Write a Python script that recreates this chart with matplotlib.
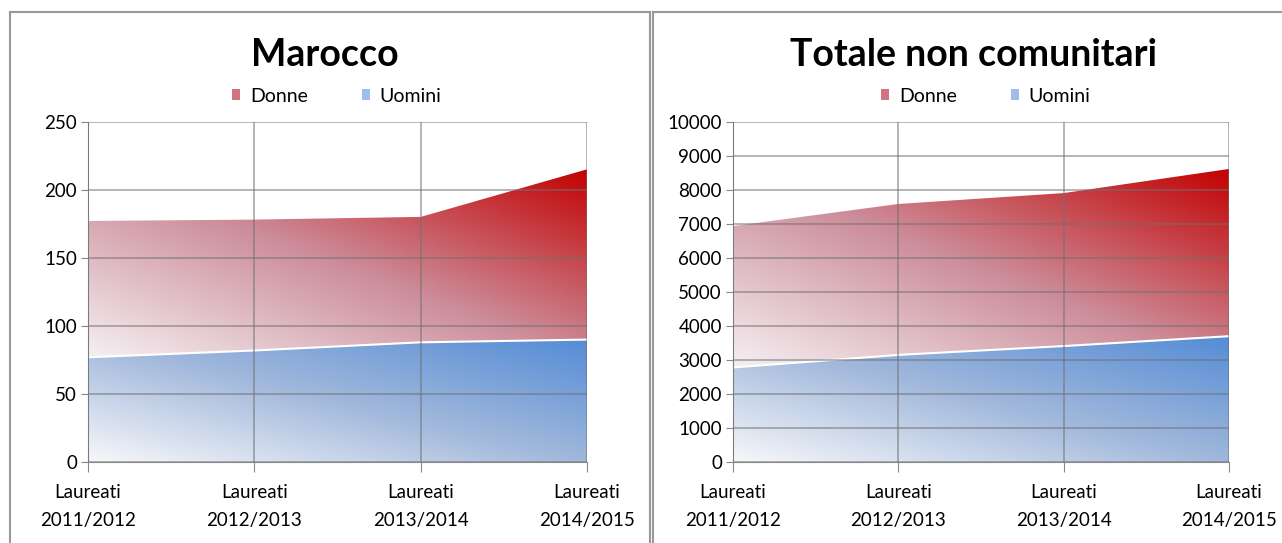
import numpy as np
import matplotlib
matplotlib.use('Agg')
import matplotlib.pyplot as plt
from matplotlib.lines import Line2D
from matplotlib.patches import Patch

# categories and values (stacked area: Uomini bottom, Donne on top)
categories = ['Laureati\n2011/2012', 'Laureati\n2012/2013',
              'Laureati\n2013/2014', 'Laureati\n2014/2015']
marocco_uomini = [77, 82, 88, 90]
marocco_donne = [101, 97, 93, 126]
totale_uomini = [2780, 3150, 3410, 3700]
totale_donne = [4190, 4470, 4530, 4950]

# gradient stops (light bottom-left -> mid -> strong top-right)
red_stops = [(0.96, 0.94, 0.95), (0.80, 0.55, 0.60), (0.76, 0.0, 0.0)]
blue_stops = [(0.97, 0.97, 0.98), (0.63, 0.72, 0.86), (0.33, 0.55, 0.84)]

plt.rcParams['font.family'] = ['Lato', 'DejaVu Sans']

W, H = 1282, 543
fig = plt.figure(figsize=(W / 100, H / 100), dpi=100)


def px(x0, y0, x1, y1):
    return [x0 / W, 1 - y1 / H, (x1 - x0) / W, (y1 - y0) / H]


def gradient_area(ax, x, lower, upper, stops):
    poly = ax.fill_between(x, lower, upper, facecolor='none', edgecolor='none')
    y0, y1 = min(lower), max(upper)
    n = 200
    gx, gy = np.meshgrid(np.linspace(0, 1, n), np.linspace(0, 1, n))
    t = (gx + gy) / 2
    img = np.zeros((n, n, 3))
    for c in range(3):
        img[..., c] = np.interp(t, [0, 0.5, 1], [s[c] for s in stops])
    im = ax.imshow(img, extent=[x[0], x[-1], y0, y1], origin='lower',
                   aspect='auto', zorder=1, interpolation='bilinear')
    im.set_clip_path(poly.get_paths()[0], ax.transData)
    ax.plot(x, upper, color='white', lw=1.5, zorder=2)


def draw_panel(rect, title, uomini, donne, ymax, step, title_x):
    ax = fig.add_axes(rect)
    x = np.arange(len(categories))
    base = np.zeros(len(x))
    tot_u = np.array(uomini, dtype=float)
    tot_d = tot_u + np.array(donne)
    gradient_area(ax, x, base, tot_u, blue_stops)
    gradient_area(ax, x, tot_u, tot_d, red_stops)

    ax.set_xlim(0, len(x) - 1)
    ax.set_ylim(0, ymax)
    ax.set_yticks(np.arange(0, ymax + 1, step))
    ax.set_xticks(x)
    ax.set_xticklabels(categories, fontsize=13.5, linespacing=1.75)
    ax.tick_params(axis='y', labelsize=13.5, length=5, color='#888888', pad=3)
    ax.tick_params(axis='x', length=7, color='#888888', pad=9)
    for s in ['top', 'right']:
        ax.spines[s].set_visible(False)
    for s in ['left', 'bottom']:
        ax.spines[s].set_color('#888888')
    ax.grid(True, color='#707070', alpha=0.65, lw=1.1, zorder=3)
    ax.set_axisbelow(False)
    ax.set_facecolor('white')

    fig.text(title_x, 1 - 55 / H, title, ha='center', va='center',
             fontsize=27, fontweight='bold')
    handles = [Patch(facecolor=(0.82, 0.45, 0.50)), Patch(facecolor=(0.62, 0.74, 0.92))]
    fig.legend(handles, ['Donne', 'Uomini'], loc='center',
               bbox_to_anchor=(title_x + 12 / W, 1 - 96 / H), ncol=2, frameon=False,
               fontsize=14, handlelength=0.4, handleheight=0.55,
               handletextpad=0.5, columnspacing=2.8)
    return ax


draw_panel(px(88, 122, 587, 462), 'Marocco', marocco_uomini, marocco_donne,
           250, 50, 325 / W)
draw_panel(px(733, 122, 1229, 462), 'Totale non comunitari', totale_uomini,
           totale_donne, 10000, 1000, 974 / W)

# panel borders
border = '#999999'
for (xs, ys) in [((10, 650), (12, 12)), ((10, 10), (12, 543)),
                 ((650, 650), (12, 543)), ((653, 1282), (12, 12)),
                 ((653, 653), (12, 543))]:
    fig.add_artist(Line2D([v / W for v in xs], [1 - v / H for v in ys],
                          color=border, lw=1.5))

fig.savefig('out.png', dpi=100)
